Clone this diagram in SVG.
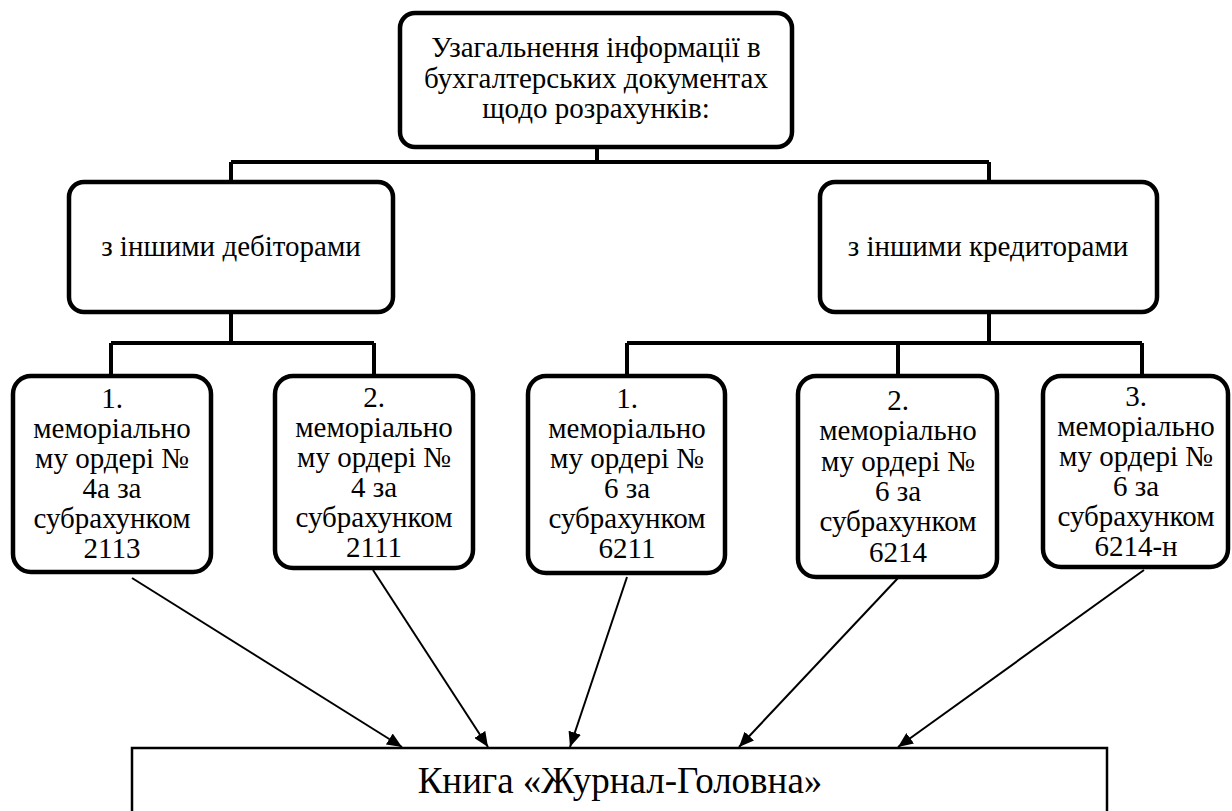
<svg xmlns="http://www.w3.org/2000/svg" width="1232" height="811" viewBox="0 0 1232 811">
<style>
.box{fill:#fff;stroke:#000;stroke-width:4.5}
.bar{fill:none;stroke:#000;stroke-width:4}
.arr{fill:none;stroke:#000;stroke-width:2}
.t{font-family:'Liberation Serif','DejaVu Serif','Times New Roman',serif;fill:#000;text-anchor:middle;font-size:29px}
.t37{font-size:37px}
</style>
<defs>
<marker id="ah" markerUnits="userSpaceOnUse" markerWidth="16" markerHeight="13" refX="15" refY="6.5" orient="auto">
<path d="M0,0 L15,6.5 L0,13 Z" fill="#000"/>
</marker>
</defs>
<rect width="1232" height="811" fill="#fff"/>
<g id="connectors">
<path class="bar" d="M597,147 V162 M231,162 H989 M231,162 V182 M989,162 V182"/>
<path class="bar" d="M231,312 V343 M111,343 H374 M111,343 V376 M374,343 V376"/>
<path class="bar" d="M989,312 V343 M627,343 H1142 M627,343 V376 M898,343 V376 M1142,343 V376"/>
<line class="arr" x1="132" y1="578" x2="402" y2="747" marker-end="url(#ah)"/>
<line class="arr" x1="373" y1="570" x2="488" y2="747" marker-end="url(#ah)"/>
<line class="arr" x1="627" y1="577" x2="570" y2="747" marker-end="url(#ah)"/>
<line class="arr" x1="898" y1="578" x2="739" y2="747" marker-end="url(#ah)"/>
<line class="arr" x1="1144" y1="570" x2="898" y2="747" marker-end="url(#ah)"/>
</g>
<g id="top">
<rect class="box" x="400" y="13" width="392" height="134" rx="15"/>
<text class="t" x="596" y="57">Узагальнення інформації в</text>
<text class="t" x="596" y="87.5">бухгалтерських документах</text>
<text class="t" x="596" y="118">щодо розрахунків:</text>
</g>
<g id="debitors">
<rect class="box" x="69" y="182" width="324" height="130" rx="15"/>
<text class="t" x="231" y="256">з іншими дебіторами</text>
</g>
<g id="creditors">
<rect class="box" x="820" y="182" width="337" height="130" rx="15"/>
<text class="t" x="988" y="256">з іншими кредиторами</text>
</g>
<g id="d1">
<rect class="box" x="13" y="376" width="198" height="196" rx="18"/>
<text class="t" x="112" y="408">1.</text>
<text class="t" x="112" y="438">меморіально</text>
<text class="t" x="112" y="468">му ордері №</text>
<text class="t" x="112" y="498">4а за</text>
<text class="t" x="112" y="528">субрахунком</text>
<text class="t" x="112" y="558">2113</text>
</g>
<g id="d2">
<rect class="box" x="275" y="376" width="198" height="192" rx="18"/>
<text class="t" x="374" y="407">2.</text>
<text class="t" x="374" y="437">меморіально</text>
<text class="t" x="374" y="467">му ордері №</text>
<text class="t" x="374" y="497">4 за</text>
<text class="t" x="374" y="527">субрахунком</text>
<text class="t" x="374" y="557">2111</text>
</g>
<g id="c1">
<rect class="box" x="528" y="376" width="197" height="197" rx="18"/>
<text class="t" x="627" y="408">1.</text>
<text class="t" x="627" y="438">меморіально</text>
<text class="t" x="627" y="468">му ордері №</text>
<text class="t" x="627" y="498">6 за</text>
<text class="t" x="627" y="528">субрахунком</text>
<text class="t" x="627" y="558">6211</text>
</g>
<g id="c2">
<rect class="box" x="798" y="376" width="199" height="201" rx="18"/>
<text class="t" x="898" y="410">2.</text>
<text class="t" x="898" y="440">меморіально</text>
<text class="t" x="898" y="471">му ордері №</text>
<text class="t" x="898" y="501">6 за</text>
<text class="t" x="898" y="531">субрахунком</text>
<text class="t" x="898" y="562">6214</text>
</g>
<g id="c3">
<rect class="box" x="1043" y="376" width="185" height="191" rx="18"/>
<text class="t" x="1136" y="406">3.</text>
<text class="t" x="1136" y="436">меморіально</text>
<text class="t" x="1136" y="466">му ордері №</text>
<text class="t" x="1136" y="496">6 за</text>
<text class="t" x="1136" y="526">субрахунком</text>
<text class="t" x="1136" y="556">6214-н</text>
</g>
<g id="book">
<rect x="132" y="748" width="975" height="80" fill="#fff" stroke="#000" stroke-width="2.5"/>
<text class="t t37" x="620" y="793">Книга «Журнал-Головна»</text>
</g>
</svg>
